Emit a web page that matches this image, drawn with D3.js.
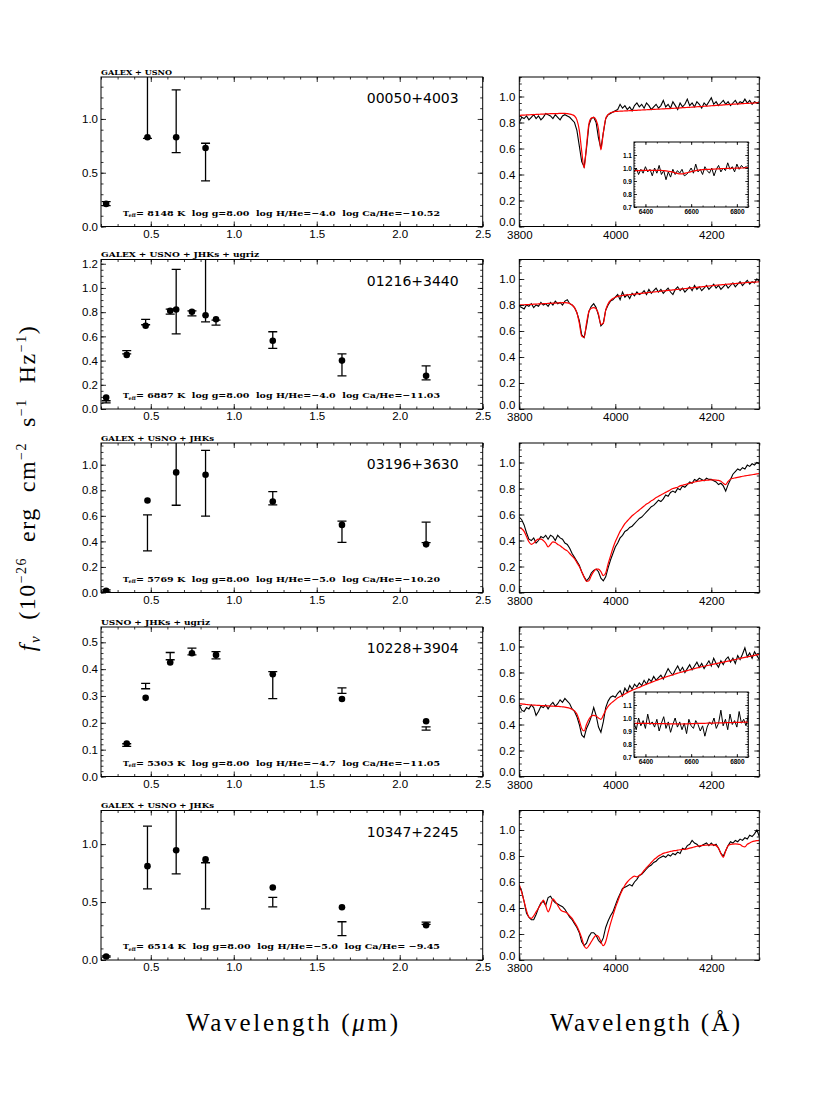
<!DOCTYPE html>
<html>
<head>
<meta charset="utf-8">
<script src="https://cdn.jsdelivr.net/npm/d3@7"></script>
<style>
body { margin:0; background:#fff; }
svg { display:block; }
</style>
</head>
<body>
<svg id="fig" width="830" height="1106"></svg>
<script>
// ---- labels ----
const starNames = ['00050+4003', '01216+3440', '03196+3630', '10228+3904', '10347+2245'];
const surveys = ['GALEX + USNO', 'GALEX + USNO + JHKs + ugriz', 'GALEX + USNO + JHKs', 'USNO + JHKs + ugriz', 'GALEX + USNO + JHKs'];
const surveyWidth = [71, 158, 113, 109, 113];
const teffVals = [8148, 6887, 5769, 5303, 6514];
const loggVals = ['8.00', '8.00', '8.00', '8.00', '8.00'];
const hheVals = ['−4.0', '−4.0', '−5.0', '−4.7', '−5.0'];
const caheVals = ['−10.52', '−11.03', '−10.20', '−11.05', ' −9.45'];

// ---- SED photometry (micron, 1e-26 erg/cm2/s/Hz) ----
const sed1Wave = [0.231, 0.48, 0.653, 0.83];
const sed1Dot  = [0.21, 0.83, 0.83, 0.73];
const sed1Lo   = [0.195, 0.82, 0.687, 0.424];
const sed1Hi   = [0.232, 1.60, 1.27, 0.774];

const sed2Wave = [0.231, 0.355, 0.469, 0.617, 0.653, 0.748, 0.83, 0.893, 1.235, 1.652, 2.159];
const sed2Dot  = [0.095, 0.447, 0.688, 0.811, 0.822, 0.803, 0.775, 0.742, 0.564, 0.40, 0.274];
const sed2Lo   = [0.05, 0.455, 0.696, 0.784, 0.62, 0.77, 0.72, 0.693, 0.50, 0.274, 0.241];
const sed2Hi   = [0.068, 0.482, 0.74, 0.825, 1.153, 0.81, 1.60, 0.734, 0.638, 0.455, 0.356];

const sed3Wave = [0.231, 0.48, 0.653, 0.83, 1.235, 1.652, 2.159];
const sed3Dot  = [0.013, 0.72, 0.94, 0.921, 0.712, 0.529, 0.377];
const sed3Lo   = [0.005, 0.325, 0.683, 0.597, 0.686, 0.393, 0.39];
const sed3Hi   = [0.02, 0.607, 1.60, 1.113, 0.79, 0.558, 0.55];

const sed4Wave = [0.355, 0.469, 0.617, 0.748, 0.893, 1.235, 1.652, 2.159];
const sed4Dot  = [0.123, 0.293, 0.425, 0.459, 0.453, 0.381, 0.289, 0.206];
const sed4Lo   = [0.112, 0.327, 0.435, 0.453, 0.438, 0.29, 0.31, 0.173];
const sed4Hi   = [0.122, 0.347, 0.462, 0.478, 0.465, 0.391, 0.33, 0.185];

const sed5Wave = [0.231, 0.48, 0.653, 0.83, 1.235, 1.652, 2.159];
const sed5Dot  = [0.03, 0.81, 0.947, 0.868, 0.626, 0.455, 0.30];
const sed5Lo   = [0.025, 0.614, 0.743, 0.442, 0.459, 0.21, 0.307];
const sed5Hi   = [0.035, 1.155, 1.60, 0.839, 0.541, 0.33, 0.327];

// y range of each SED panel
const sedYmax = [1.39, 1.235, 1.17, 0.557, 1.29];
const sedYstep = [0.5, 0.2, 0.2, 0.1, 0.5];

// ---- spectra, sampled every 5 A from 3800 to 4300 ----
const specWave = d3.range(3800, 4301, 5);

const spec1Obs = [0.80,0.84,0.83,0.85,0.82,0.84,0.86,0.83,0.85,0.82,0.84,0.87,0.86,0.85,0.83,0.86,0.84,0.82,0.85,0.86,0.85,
  0.84,0.82,0.80,0.74,0.62,0.50,0.46,0.60,0.78,0.83,
  0.84,0.80,0.68,0.60,0.72,0.83,0.86,0.87,0.88,0.89,
  0.90,0.94,0.91,0.93,0.90,0.92,0.89,0.93,0.95,0.92,
  0.94,0.91,0.95,0.93,0.90,0.92,0.94,0.91,0.93,0.97,
  0.92,0.94,0.91,0.96,0.93,0.90,0.95,0.92,0.94,0.98,
  0.93,0.95,0.92,0.96,0.94,0.91,0.95,0.93,0.96,0.99,
  0.94,0.96,0.93,0.95,0.97,0.94,0.96,0.93,0.95,0.97,
  0.94,0.96,0.95,0.98,0.95,0.97,0.94,0.96,0.95,0.96];
const spec1Model = [0.855,0.856,0.857,0.858,0.859,0.86,0.861,0.862,0.863,0.864,0.865,0.866,0.867,0.868,0.868,0.869,0.869,0.87,0.87,0.87,0.868,
  0.865,0.86,0.85,0.82,0.74,0.58,0.45,0.62,0.79,0.835,
  0.84,0.82,0.75,0.59,0.72,0.83,0.86,0.875,0.88,0.885,
  0.886,0.887,0.888,0.889,0.890,0.891,0.892,0.893,0.894,0.895,
  0.896,0.897,0.898,0.899,0.900,0.901,0.902,0.903,0.904,0.905,
  0.906,0.907,0.908,0.909,0.910,0.911,0.912,0.914,0.915,0.916,
  0.917,0.918,0.920,0.921,0.922,0.923,0.925,0.926,0.927,0.929,
  0.930,0.931,0.933,0.934,0.935,0.937,0.938,0.939,0.941,0.942,
  0.943,0.944,0.945,0.946,0.947,0.948,0.949,0.950,0.951,0.952];

const spec2Obs = [0.79,0.78,0.77,0.80,0.79,0.81,0.78,0.80,0.79,0.82,0.80,0.81,0.79,0.82,0.80,0.83,0.81,0.82,0.80,0.83,0.84,
  0.81,0.80,0.78,0.74,0.68,0.57,0.55,0.64,0.75,0.79,
  0.81,0.78,0.72,0.64,0.66,0.76,0.80,0.83,0.84,0.86,
  0.88,0.84,0.90,0.86,0.88,0.85,0.89,0.87,0.90,0.88,
  0.89,0.91,0.88,0.92,0.89,0.91,0.93,0.90,0.92,0.89,
  0.91,0.93,0.90,0.88,0.92,0.94,0.91,0.93,0.90,0.92,
  0.94,0.91,0.95,0.92,0.94,0.91,0.93,0.95,0.92,0.94,
  0.96,0.93,0.95,0.92,0.94,0.96,0.93,0.95,0.97,0.94,
  0.96,0.98,0.95,0.97,0.99,0.96,0.98,0.97,1.00,0.98];
const spec2Model = [0.800,0.801,0.802,0.803,0.804,0.805,0.806,0.807,0.808,0.809,0.810,0.811,0.812,0.813,0.814,0.815,0.816,0.817,0.818,0.818,0.817,
  0.812,0.80,0.78,0.74,0.66,0.56,0.55,0.66,0.75,0.775,
  0.78,0.77,0.73,0.65,0.66,0.76,0.81,0.835,0.85,0.86,
  0.866,0.870,0.873,0.876,0.878,0.880,0.882,0.884,0.886,0.888,
  0.890,0.892,0.894,0.896,0.898,0.900,0.902,0.904,0.906,0.908,
  0.910,0.912,0.914,0.916,0.918,0.920,0.922,0.924,0.926,0.928,
  0.930,0.932,0.934,0.936,0.938,0.940,0.942,0.944,0.946,0.948,
  0.950,0.952,0.954,0.955,0.957,0.959,0.960,0.962,0.964,0.965,
  0.967,0.968,0.970,0.971,0.973,0.974,0.975,0.976,0.977,0.978];

const spec3Obs = [0.58,0.56,0.52,0.46,0.41,0.40,0.42,0.38,0.40,0.43,0.42,0.44,0.41,0.44,0.43,0.40,0.44,0.42,0.41,0.38,0.37,
  0.34,0.30,0.27,0.24,0.21,0.16,0.12,0.09,0.11,0.15,
  0.17,0.18,0.16,0.11,0.09,0.12,0.19,0.25,0.30,0.35,
  0.38,0.42,0.44,0.47,0.48,0.50,0.51,0.53,0.55,0.57,
  0.58,0.60,0.62,0.64,0.66,0.67,0.69,0.71,0.70,0.72,
  0.75,0.74,0.77,0.78,0.77,0.80,0.79,0.82,0.81,0.83,
  0.85,0.84,0.87,0.86,0.88,0.87,0.86,0.88,0.87,0.87,
  0.86,0.85,0.83,0.84,0.82,0.78,0.83,0.87,0.91,0.93,
  0.95,0.94,0.96,0.95,0.98,0.97,0.99,0.98,1.00,0.99];
const spec3Model = [0.50,0.49,0.47,0.43,0.39,0.37,0.38,0.40,0.41,0.41,0.40,0.38,0.35,0.37,0.39,0.385,0.37,0.36,0.345,0.33,0.32,
  0.30,0.28,0.26,0.23,0.20,0.16,0.12,0.085,0.09,0.13,
  0.16,0.18,0.18,0.16,0.13,0.15,0.22,0.28,0.34,0.39,
  0.43,0.47,0.50,0.53,0.55,0.57,0.59,0.605,0.62,0.635,
  0.65,0.665,0.68,0.69,0.705,0.715,0.73,0.74,0.75,0.76,
  0.77,0.78,0.79,0.80,0.805,0.81,0.82,0.825,0.83,0.835,
  0.84,0.845,0.85,0.855,0.857,0.86,0.862,0.864,0.865,0.866,
  0.866,0.865,0.862,0.855,0.84,0.83,0.855,0.872,0.878,0.882,
  0.886,0.89,0.894,0.897,0.90,0.903,0.906,0.909,0.912,0.915];

const spec4Obs = [0.55,0.51,0.50,0.53,0.52,0.55,0.53,0.47,0.50,0.54,0.53,0.55,0.52,0.55,0.57,0.54,0.56,0.59,0.57,0.60,0.58,
  0.56,0.52,0.50,0.46,0.40,0.32,0.30,0.37,0.41,0.46,
  0.53,0.47,0.38,0.34,0.42,0.53,0.58,0.61,0.62,0.61,
  0.64,0.66,0.62,0.68,0.65,0.70,0.67,0.71,0.69,0.72,
  0.70,0.74,0.71,0.75,0.73,0.77,0.74,0.76,0.78,0.75,
  0.79,0.83,0.80,0.78,0.82,0.85,0.81,0.84,0.80,0.83,
  0.86,0.82,0.85,0.88,0.84,0.87,0.83,0.86,0.89,0.85,
  0.91,0.87,0.84,0.89,0.86,0.90,0.92,0.88,0.91,0.87,
  0.93,0.90,0.94,0.99,0.92,0.95,0.91,0.96,0.93,0.90];
const spec4Model = [0.560,0.558,0.556,0.554,0.552,0.550,0.549,0.548,0.547,0.546,0.545,0.544,0.543,0.542,0.541,0.540,0.539,0.538,0.536,0.534,0.530,
  0.525,0.518,0.505,0.48,0.43,0.37,0.35,0.40,0.44,0.465,
  0.47,0.465,0.45,0.44,0.47,0.51,0.54,0.56,0.575,0.59,
  0.605,0.615,0.625,0.635,0.645,0.655,0.663,0.671,0.679,0.686,
  0.694,0.702,0.710,0.717,0.724,0.731,0.738,0.745,0.752,0.759,
  0.765,0.771,0.777,0.783,0.789,0.795,0.800,0.805,0.810,0.815,
  0.820,0.825,0.830,0.835,0.840,0.844,0.848,0.852,0.856,0.860,
  0.864,0.868,0.872,0.876,0.880,0.884,0.888,0.892,0.896,0.900,
  0.904,0.908,0.912,0.916,0.920,0.924,0.928,0.932,0.936,0.940];

const spec5Obs = [0.57,0.53,0.45,0.36,0.33,0.31,0.31,0.35,0.40,0.44,0.45,0.42,0.48,0.49,0.46,0.44,0.43,0.42,0.41,0.39,0.36,
  0.33,0.31,0.28,0.25,0.21,0.14,0.11,0.13,0.18,0.21,
  0.21,0.19,0.15,0.13,0.17,0.25,0.30,0.34,0.37,0.42,
  0.47,0.51,0.55,0.56,0.57,0.58,0.57,0.60,0.62,0.65,
  0.66,0.68,0.70,0.72,0.73,0.75,0.76,0.78,0.79,0.80,
  0.79,0.81,0.80,0.82,0.81,0.83,0.82,0.86,0.85,0.88,
  0.89,0.92,0.90,0.89,0.87,0.88,0.89,0.90,0.88,0.90,
  0.88,0.89,0.86,0.82,0.80,0.84,0.88,0.91,0.90,0.92,
  0.91,0.93,0.92,0.94,0.93,0.96,0.95,0.97,1.00,0.95];
const spec5Model = [0.58,0.52,0.45,0.38,0.33,0.32,0.34,0.37,0.40,0.43,0.46,0.42,0.37,0.41,0.47,0.45,0.42,0.39,0.375,0.37,0.36,
  0.34,0.32,0.29,0.26,0.22,0.17,0.11,0.09,0.11,0.14,
  0.17,0.19,0.18,0.14,0.11,0.14,0.21,0.28,0.34,0.40,
  0.45,0.50,0.54,0.575,0.60,0.62,0.635,0.645,0.64,0.65,
  0.665,0.69,0.71,0.73,0.75,0.77,0.785,0.80,0.81,0.82,
  0.825,0.83,0.835,0.84,0.842,0.845,0.848,0.85,0.852,0.855,
  0.86,0.865,0.87,0.875,0.878,0.88,0.882,0.884,0.885,0.886,
  0.885,0.88,0.86,0.82,0.79,0.84,0.88,0.89,0.892,0.893,
  0.892,0.888,0.875,0.87,0.89,0.90,0.91,0.915,0.918,0.92];

// ---- H-alpha insets, sampled every 10 A from 6350 to 6850 ----
const insetWave = d3.range(6350, 6851, 10);
const inset1Obs = [0.97,1.00,0.95,0.99,0.96,1.01,0.97,0.99,0.94,1.00,
  0.96,1.02,0.95,0.98,0.91,0.97,0.93,0.99,0.95,0.98,
  0.96,0.99,0.94,0.95,0.97,1.00,0.96,1.03,0.97,0.99,
  0.95,1.01,0.98,0.96,1.00,0.94,0.99,1.02,0.97,1.00,
  0.98,1.04,0.99,1.01,0.97,1.03,0.99,1.02,1.00,1.01,1.00];
const inset1Model = [0.980,0.980,0.980,0.981,0.981,0.981,0.981,0.982,0.982,0.982,
  0.982,0.982,0.981,0.980,0.978,0.975,0.972,0.968,0.962,0.958,
  0.955,0.955,0.958,0.962,0.967,0.972,0.976,0.980,0.983,0.985,
  0.987,0.988,0.989,0.990,0.991,0.992,0.993,0.994,0.995,0.996,
  0.996,0.997,0.997,0.998,0.998,0.999,0.999,1.000,1.000,1.001,1.001];
const inset4Obs = [0.96,0.91,1.00,0.94,0.98,0.92,1.03,0.95,0.97,0.93,
  0.99,0.90,0.96,1.01,0.92,0.97,0.89,0.95,1.00,0.93,
  0.97,0.91,0.96,0.88,0.99,0.94,0.92,0.98,0.95,0.90,
  0.94,0.86,0.93,0.97,0.95,1.00,0.92,0.96,1.06,0.94,
  0.99,0.91,1.03,0.95,0.98,0.93,1.05,0.96,0.99,0.94,1.02];
const inset4Model = [0.958,0.958,0.958,0.958,0.958,0.958,0.958,0.958,0.957,0.957,
  0.957,0.957,0.956,0.956,0.956,0.955,0.955,0.955,0.955,0.955,
  0.954,0.954,0.955,0.955,0.956,0.956,0.957,0.957,0.958,0.958,
  0.959,0.959,0.960,0.960,0.961,0.961,0.962,0.962,0.963,0.963,
  0.964,0.964,0.965,0.965,0.966,0.966,0.967,0.967,0.968,0.968,0.968];

// ---- build the panel tables ----
const sedPanels = [
  {wave: sed1Wave, dot: sed1Dot, lo: sed1Lo, hi: sed1Hi},
  {wave: sed2Wave, dot: sed2Dot, lo: sed2Lo, hi: sed2Hi},
  {wave: sed3Wave, dot: sed3Dot, lo: sed3Lo, hi: sed3Hi},
  {wave: sed4Wave, dot: sed4Dot, lo: sed4Lo, hi: sed4Hi},
  {wave: sed5Wave, dot: sed5Dot, lo: sed5Lo, hi: sed5Hi}
];
const specPanels = [
  {obs: spec1Obs, model: spec1Model, inset: {obs: inset1Obs, model: inset1Model}},
  {obs: spec2Obs, model: spec2Model},
  {obs: spec3Obs, model: spec3Model},
  {obs: spec4Obs, model: spec4Model, inset: {obs: inset4Obs, model: inset4Model}},
  {obs: spec5Obs, model: spec5Model}
];

const svg = d3.select('#fig');
const rowTop = [77, 259.5, 443, 627, 810.5];
const rowH = 149.5;
const leftCol = {x0: 101, w: 381.7};
const rightCol = {x0: 519.3, w: 240};
const tickFont = 'Liberation Sans, Arial, sans-serif';
const noteFont = 'DejaVu Serif, serif';
const titleFont = 'Liberation Serif, Times New Roman, serif';

// inward ticks on all four sides, labels on bottom and left
function frame(g, x, y, w, h, opt) {
    const xMaj = opt.xMaj, xMin = opt.xMin, yMaj = opt.yMaj, yMin = opt.yMin;
    const L = opt.len || 5, l = L / 2;
    const put = (axis, tx, ty) => {
	const a = g.append('g').attr('transform', `translate(${tx},${ty})`).call(axis);
	a.select('.domain').remove();
	a.selectAll('line').attr('stroke', '#000').attr('stroke-width', 0.8);
	a.selectAll('text').attr('font-family', tickFont).attr('font-size', opt.fs)
	    .attr('font-weight', opt.fw || 'normal').attr('fill', '#000');
	return a;
    };
    put(d3.axisBottom(x).tickValues(xMaj).tickSize(-L).tickPadding(opt.xpad || 3).tickFormat(opt.xFmt), 0, h);
    put(d3.axisBottom(x).tickValues(xMin).tickSize(-l).tickFormat(''), 0, h);
    put(d3.axisTop(x).tickValues(xMaj).tickSize(-L).tickFormat(''), 0, 0);
    put(d3.axisTop(x).tickValues(xMin).tickSize(-l).tickFormat(''), 0, 0);
    const yl = put(d3.axisLeft(y).tickValues(yMaj).tickSize(-L).tickPadding(opt.ypad || 3).tickFormat(opt.yFmt), 0, 0);
    if (opt.liftZero) yl.selectAll('text').filter(d => d === yMaj[0]).attr('dy', '-0.05em');
    put(d3.axisLeft(y).tickValues(yMin).tickSize(-l).tickFormat(''), 0, 0);
    put(d3.axisRight(y).tickValues(yMaj).tickSize(-L).tickFormat(''), w, 0);
    put(d3.axisRight(y).tickValues(yMin).tickSize(-l).tickFormat(''), w, 0);
    g.append('rect').attr('width', w).attr('height', h)
	.attr('fill', 'none').attr('stroke', '#000').attr('stroke-width', 1);
}

function steps(a, b, s) {
    const out = [];
    for (let i = 0; a + i * s <= b + 1e-9; i++) out.push(+(a + i * s).toFixed(4));
    return out;
}

// ---- left column: SEDs ----
sedPanels.forEach((p, i) => {
    const top = rowTop[i], w = leftCol.w, h = rowH;
    const g = svg.append('g').attr('transform', `translate(${leftCol.x0},${top})`);
    const x = d3.scaleLinear().domain([0.2, 2.5]).range([0, w]);
    const y = d3.scaleLinear().domain([0, sedYmax[i]]).range([h, 0]);
    const ys = sedYstep[i];
    const yMinStep = ys === 0.2 ? 0.05 : ys / 5;

    const clipId = 'sedclip' + i;
    g.append('clipPath').attr('id', clipId).append('rect').attr('width', w).attr('height', h);
    const plot = g.append('g').attr('clip-path', `url(#${clipId})`);

    const rows = p.wave.map((wv, k) => ({w: wv, f: p.dot[k], lo: p.lo[k], hi: p.hi[k]}));
    const capW = 4.5;
    plot.selectAll('line.bar').data(rows).join('line').attr('class', 'bar')
	.attr('x1', d => x(d.w)).attr('x2', d => x(d.w))
	.attr('y1', d => y(d.lo)).attr('y2', d => y(d.hi))
	.attr('stroke', '#000').attr('stroke-width', 1.3);
    ['lo', 'hi'].forEach(k => {
	plot.selectAll('line.cap' + k).data(rows).join('line').attr('class', 'cap' + k)
	    .attr('x1', d => x(d.w) - capW).attr('x2', d => x(d.w) + capW)
	    .attr('y1', d => y(d[k])).attr('y2', d => y(d[k]))
	    .attr('stroke', '#000').attr('stroke-width', 1.3);
    });
    plot.selectAll('circle').data(rows).join('circle')
	.attr('cx', d => x(d.w)).attr('cy', d => y(d.f)).attr('r', 3.3).attr('fill', '#000');

    frame(g, x, y, w, h, {
	xMaj: steps(0.5, 2.5, 0.5), xMin: steps(0.2, 2.5, 0.1),
	yMaj: steps(0, sedYmax[i], ys), yMin: steps(0, sedYmax[i], yMinStep),
	xFmt: d3.format('.1f'), yFmt: d3.format('.1f'), fs: 11.5
    });

    g.append('text').attr('x', w - 24).attr('y', 26).attr('text-anchor', 'end')
	.attr('font-family', 'DejaVu Sans, sans-serif').attr('font-size', 14).text(starNames[i]);

    g.append('text').attr('x', 0).attr('y', -2.5)
	.attr('font-family', noteFont).attr('font-weight', 'bold').attr('font-size', 8)
	.attr('textLength', surveyWidth[i]).attr('lengthAdjust', 'spacingAndGlyphs')
	.text(surveys[i]);

    const ty = h - 11;
    g.append('text').attr('x', 22).attr('y', ty)
	.attr('font-family', noteFont).attr('font-weight', 'bold').attr('font-size', 8).text('T');
    g.append('text').attr('x', 27.5).attr('y', ty + 1.8)
	.attr('font-family', noteFont).attr('font-weight', 'bold').attr('font-size', 5).text('eff');
    g.append('text').attr('x', 35).attr('y', ty)
	.attr('font-family', noteFont).attr('font-weight', 'bold').attr('font-size', 8)
	.style('white-space', 'pre')
	.attr('textLength', 304).attr('lengthAdjust', 'spacingAndGlyphs')
	.text(`= ${teffVals[i]} K  log g=${loggVals[i]}  log H/He=${hheVals[i]}  log Ca/He=${caheVals[i]}`);
});

// ---- right column: Ca II H & K spectra ----
specPanels.forEach((p, i) => {
    const top = rowTop[i], w = rightCol.w, h = rowH;
    const g = svg.append('g').attr('transform', `translate(${rightCol.x0},${top})`);
    const x = d3.scaleLinear().domain([3800, 4300]).range([0, w]);
    const y = d3.scaleLinear().domain([0, 1.15]).range([h, 0]);

    const clipId = 'specclip' + i;
    g.append('clipPath').attr('id', clipId).append('rect').attr('width', w).attr('height', h);
    const plot = g.append('g').attr('clip-path', `url(#${clipId})`);

    const obsLine = d3.line().x((d, k) => x(specWave[k])).y(d => y(d));
    const modLine = d3.line().x((d, k) => x(specWave[k])).y(d => y(d)).curve(d3.curveMonotoneX);
    plot.append('path').attr('d', obsLine(p.obs)).attr('fill', 'none')
	.attr('stroke', '#000').attr('stroke-width', 1.1);
    plot.append('path').attr('d', modLine(p.model)).attr('fill', 'none')
	.attr('stroke', '#ff0000').attr('stroke-width', 1.2);

    frame(g, x, y, w, h, {
	xMaj: [3800, 4000, 4200], xMin: steps(3800, 4300, 50),
	yMaj: steps(0, 1.0, 0.2), yMin: steps(0, 1.15, 0.05),
	xFmt: d3.format('d'), yFmt: d3.format('.1f'), fs: 11.5, xpad: 4, ypad: 4, liftZero: true
    });

    if (p.inset) {
	const ix = 114.7, iy = 65, iw = 114.3, ih = 65;
	const gi = g.append('g').attr('transform', `translate(${ix},${iy})`);
	gi.append('rect').attr('width', iw).attr('height', ih).attr('fill', '#fff');
	const xi = d3.scaleLinear().domain([6350, 6850]).range([0, iw]);
	const yi = d3.scaleLinear().domain([0.7, 1.2]).range([ih, 0]);
	const cid = 'insclip' + i;
	gi.append('clipPath').attr('id', cid).append('rect').attr('width', iw).attr('height', ih);
	const pi = gi.append('g').attr('clip-path', `url(#${cid})`);
	const lo = d3.line().x((d, k) => xi(insetWave[k])).y(d => yi(d));
	const lm = d3.line().x((d, k) => xi(insetWave[k])).y(d => yi(d)).curve(d3.curveMonotoneX);
	pi.append('path').attr('d', lo(p.inset.obs)).attr('fill', 'none')
	    .attr('stroke', '#000').attr('stroke-width', 1);
	pi.append('path').attr('d', lm(p.inset.model)).attr('fill', 'none')
	    .attr('stroke', '#ff0000').attr('stroke-width', 1.2);
	frame(gi, xi, yi, iw, ih, {
	    xMaj: [6400, 6600, 6800], xMin: steps(6350, 6850, 50),
	    yMaj: steps(0.7, 1.1, 0.1), yMin: steps(0.7, 1.2, 0.02),
	    xFmt: d3.format('d'), yFmt: d3.format('.1f'), fs: 6.5, fw: 'bold', xpad: 2, ypad: 2, len: 3
	});
    }
});

// ---- axis titles ----
svg.append('text').attr('x', 292).attr('y', 1031).attr('text-anchor', 'middle')
    .attr('font-family', titleFont).attr('font-size', 25)
    .attr('textLength', 212).attr('lengthAdjust', 'spacing')
    .html('Wavelength (<tspan font-style="italic">μ</tspan>m)');
svg.append('text').attr('x', 645).attr('y', 1031).attr('text-anchor', 'middle')
    .attr('font-family', titleFont).attr('font-size', 25)
    .attr('textLength', 190).attr('lengthAdjust', 'spacing')
    .text('Wavelength (Å)');

const ylab = svg.append('text')
    .attr('transform', 'translate(35,488) rotate(-90)')
    .attr('text-anchor', 'middle')
    .attr('font-family', titleFont).attr('font-size', 24)
    .style('letter-spacing', '1.5px').style('white-space', 'pre');
ylab.append('tspan').attr('font-style', 'italic').text('f');
ylab.append('tspan').attr('font-style', 'italic').attr('font-size', 15).attr('dy', 5).text('ν');
ylab.append('tspan').attr('dy', -5).text('  (10');
ylab.append('tspan').attr('font-size', 14).attr('dy', -9).text('−26');
ylab.append('tspan').attr('dy', 9).text('  erg  cm');
ylab.append('tspan').attr('font-size', 14).attr('dy', -9).text('−2');
ylab.append('tspan').attr('dy', 9).text('  s');
ylab.append('tspan').attr('font-size', 14).attr('dy', -9).text('−1');
ylab.append('tspan').attr('dy', 9).text('  Hz');
ylab.append('tspan').attr('font-size', 14).attr('dy', -9).text('−1');
ylab.append('tspan').attr('dy', 9).text(')');
</script>
</body>
</html>
